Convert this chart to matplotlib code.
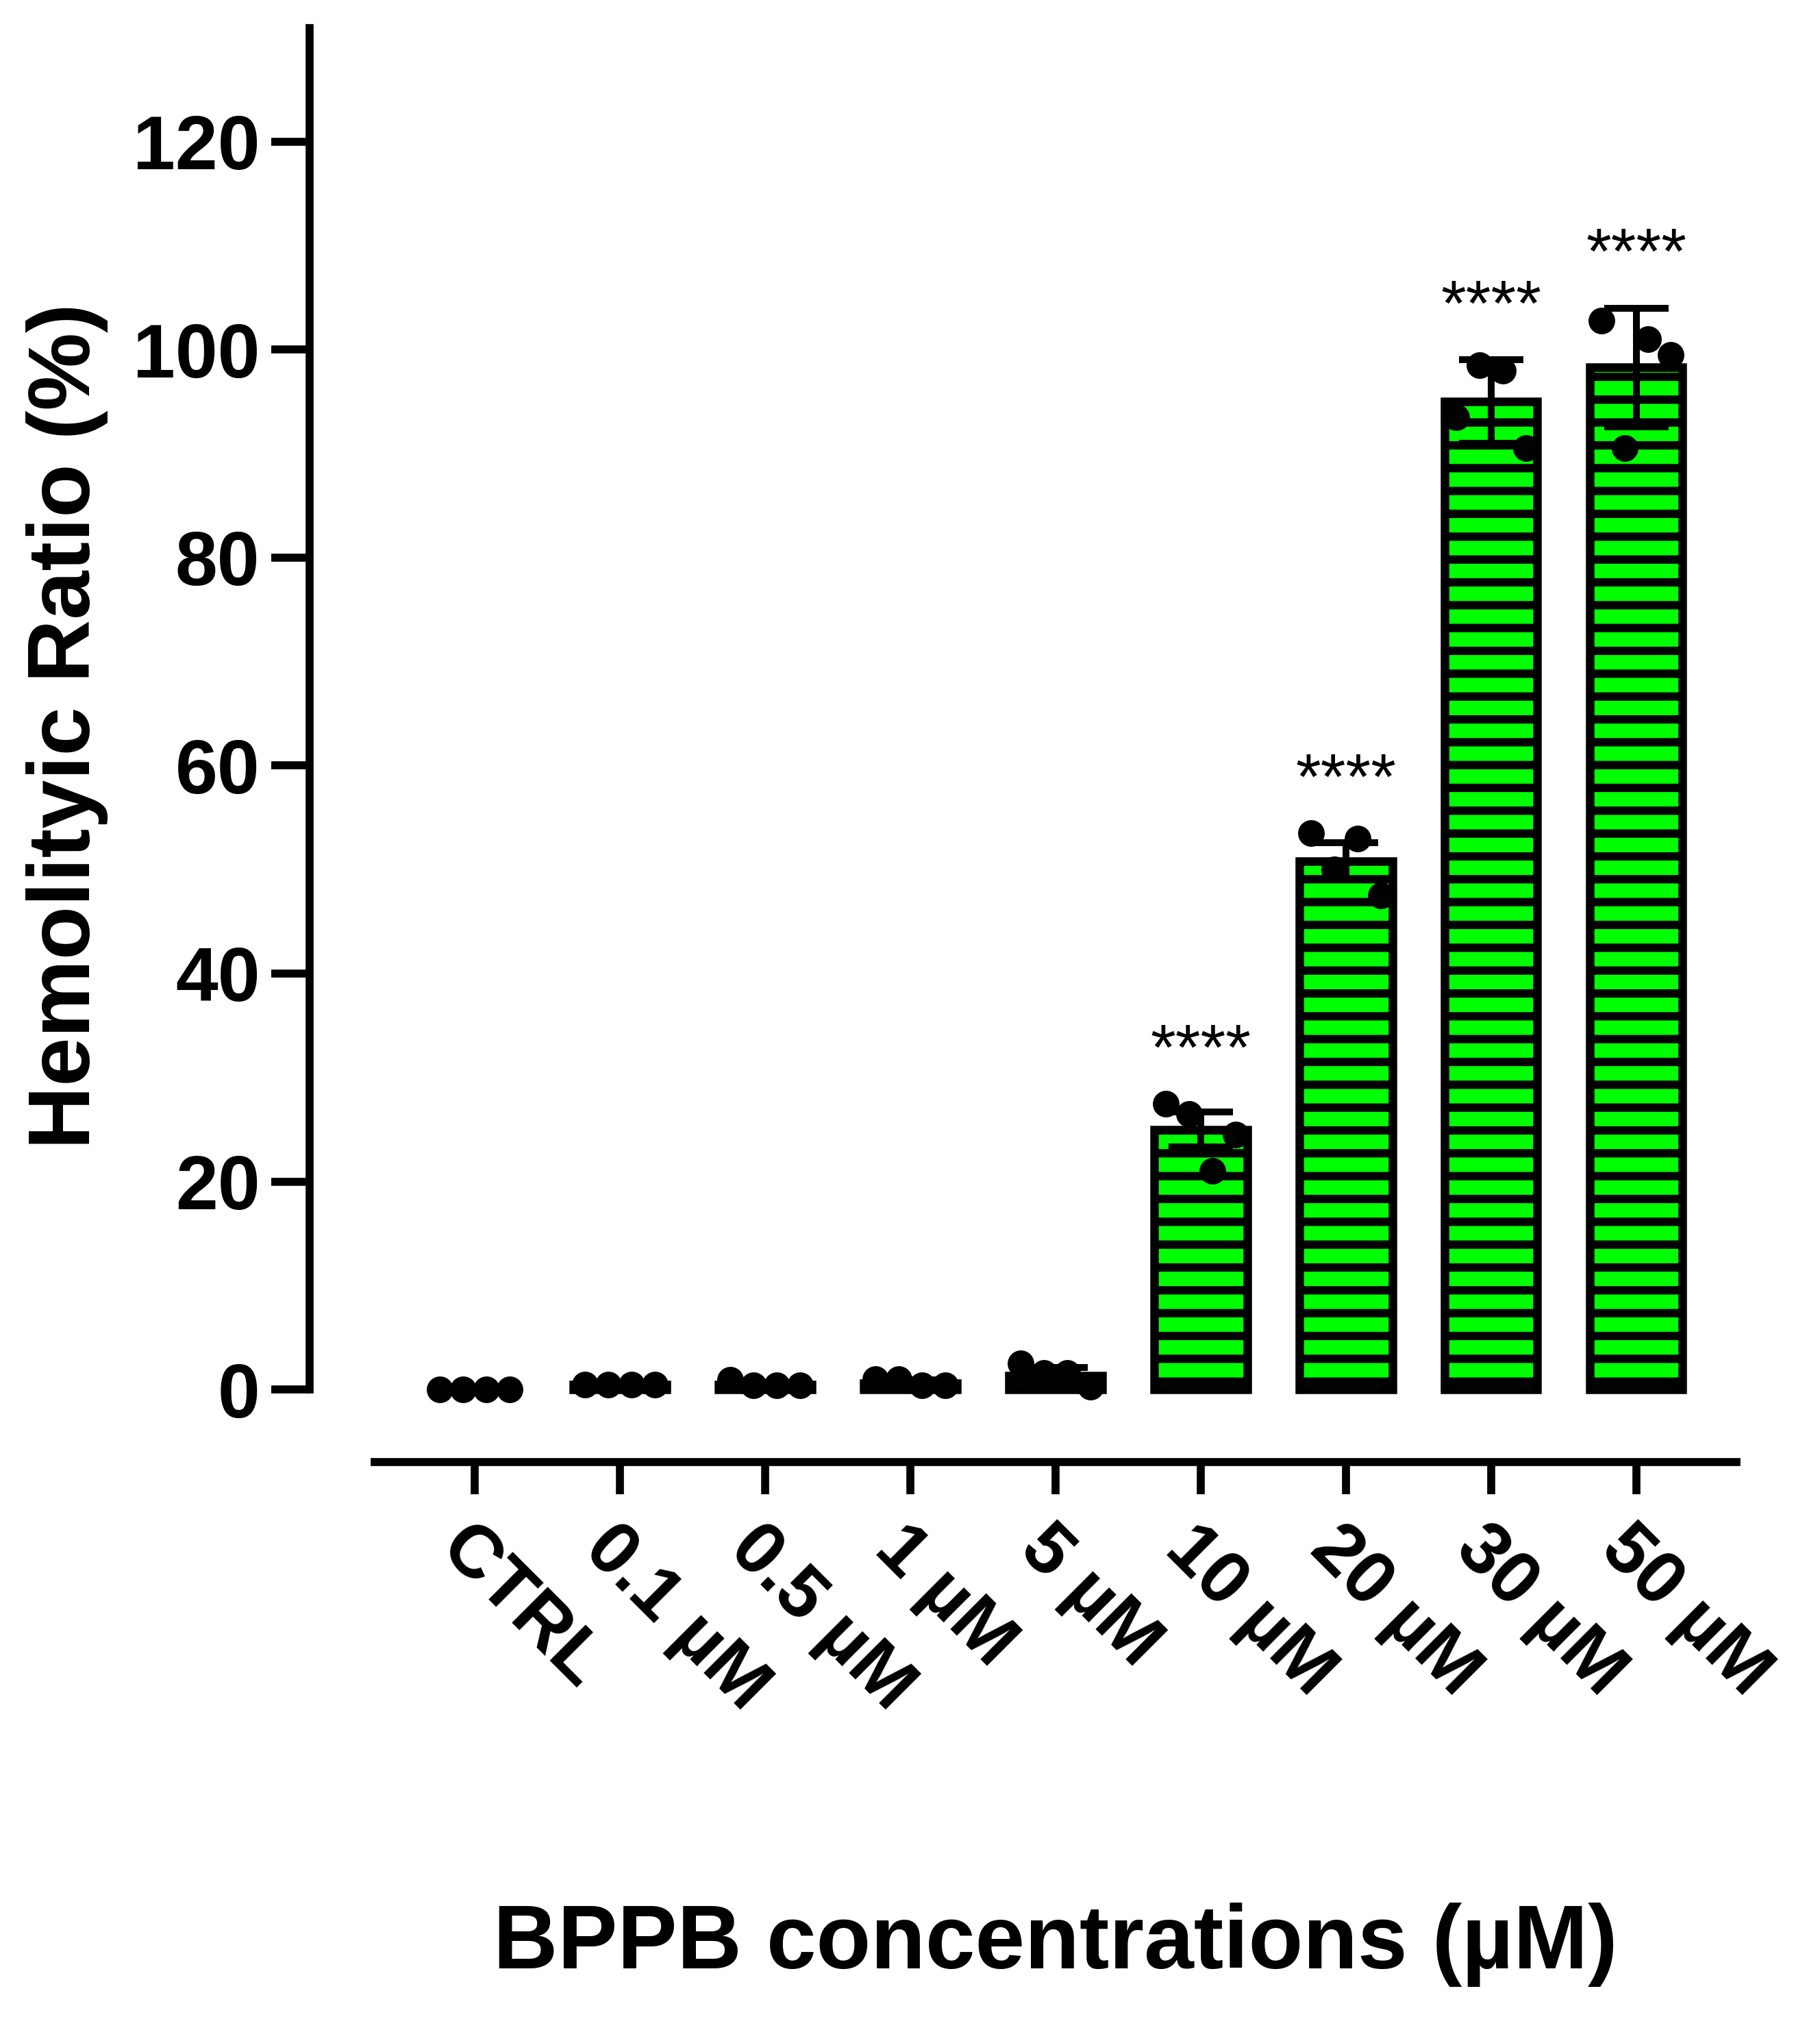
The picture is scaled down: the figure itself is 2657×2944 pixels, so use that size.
import matplotlib
matplotlib.use("Agg")
import matplotlib.pyplot as plt
import numpy as np

categories = ["CTRL", "0.1 µM", "0.5 µM", "1 µM", "5 µM", "10 µM", "20 µM", "30 µM", "50 µM"]
means = [0.0, 0.5, 0.5, 0.6, 1.3, 25.0, 50.8, 95.0, 98.3]
errs = [0.1, 0.1, 0.2, 0.3, 0.8, 1.7, 1.8, 4.0, 5.7]
points = [
    [0.0, 0.0, 0.0, 0.0],
    [0.5, 0.5, 0.5, 0.5],
    [0.9, 0.4, 0.4, 0.4],
    [1.0, 1.0, 0.4, 0.4],
    [2.5, 1.6, 1.6, 0.3],
    [27.5, 26.5, 21.0, 24.5],
    [53.5, 50.0, 53.0, 47.5],
    [93.5, 98.5, 98.0, 90.5],
    [102.8, 90.5, 101.0, 99.5],
]
sig_labels = ["", "", "", "", "", "****", "****", "****", "****"]

plt.rcParams['font.family'] = ['Liberation Sans', 'DejaVu Sans']
plt.rcParams['hatch.linewidth'] = 4.4
plt.rcParams['hatch.color'] = 'black'

fig = plt.figure(figsize=(2657/200, 2944/200), dpi=200)
ax = fig.add_axes([0.170, 0.275, 0.954-0.170, 0.986-0.275])
x = np.arange(len(categories))
ax.bar(x, means, width=0.64, color='#00ff00', edgecolor='black', linewidth=4.5, hatch='-', zorder=2)
ax.errorbar(x, means, yerr=errs, fmt='none', ecolor='black', elinewidth=3.6, capsize=17, capthick=3.6, zorder=3)
offs = np.array([-0.24, -0.08, 0.08, 0.24])
for i, pts in enumerate(points):
    ax.plot(x[i] + offs, pts, 'o', color='black', markersize=13, zorder=4)
    if sig_labels[i]:
        top = max(max(pts), means[i] + errs[i])
        ax.text(x[i], top + 2.0, sig_labels[i], ha='center', va='bottom', fontsize=34)

ax.set_xlim(-1.14, 8.69)
ax.set_ylim(-7, 130.9)
ax.spines['top'].set_visible(False)
ax.spines['right'].set_visible(False)
ax.spines['left'].set_linewidth(4.2)
ax.spines['bottom'].set_linewidth(4.2)
ax.spines['left'].set_bounds(0, 130.9)
ax.spines['bottom'].set_bounds(-0.69, 8.69)
ax.set_yticks([0, 20, 40, 60, 80, 100, 120])
ax.tick_params(axis='y', length=20, width=4.2, labelsize=40, pad=6)
ax.tick_params(axis='x', length=17, width=4.2, labelsize=39, pad=10)
for lab in ax.get_yticklabels():
    lab.set_fontweight('bold')
ax.set_xticks(x)
ax.set_xticklabels(categories, rotation=-45, ha='left', rotation_mode='anchor', fontweight='bold')
fig.text(0.037, 0.64, "Hemolityic Ratio (%)", rotation=90, ha='center', va='center', fontsize=46, fontweight='bold')
fig.text(0.58, 0.036, "BPPB concentrations (µM)", ha='center', va='center', fontsize=47, fontweight='bold')
fig.savefig("out.png", dpi=200)
